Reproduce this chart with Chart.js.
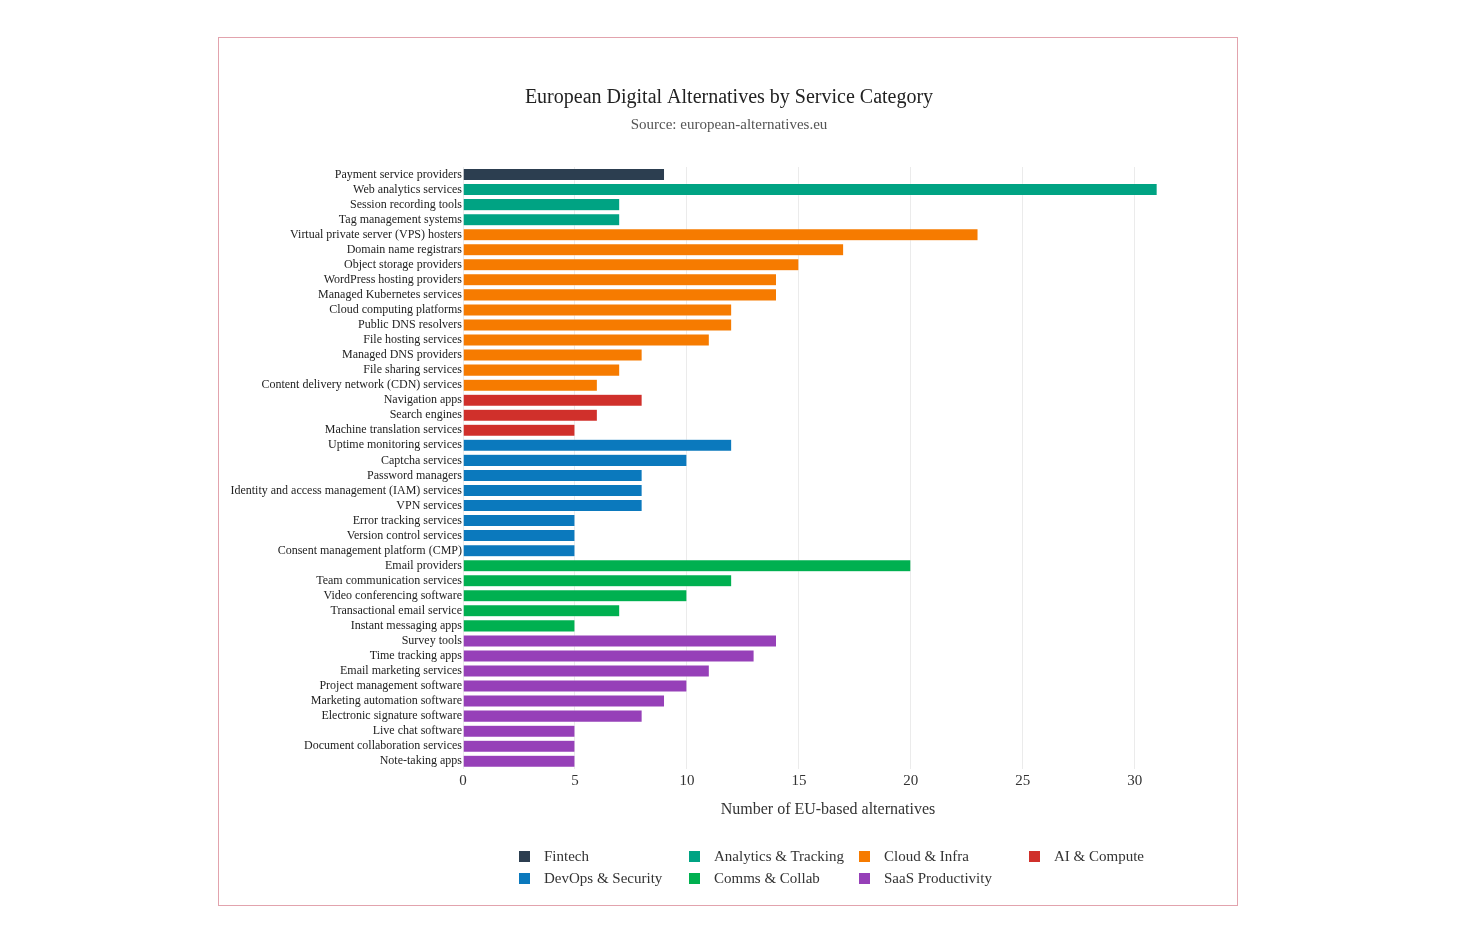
<!DOCTYPE html>
<html>
<head>
<meta charset="utf-8">
<script src="https://cdn.jsdelivr.net/npm/chart.js@4"></script>
<style>
    body { margin: 0; background: #fff; font-family: "Liberation Serif", "DejaVu Serif", serif; }
    #wrap { position: relative; width: 1464px; height: 948px; }
    #frame { position: absolute; left: 218px; top: 37px; width: 1020px; height: 869px; border: 1px solid #e2a3ad; box-sizing: border-box; }
    #chart { position: absolute; left: 0; top: 0; }
    #legend { position: absolute; left: 519px; top: 847px; display: grid; grid-template-columns: 170px 170px 170px 170px; row-gap: 4px; }
    .item { display: flex; align-items: center; font-size: 15px; color: #333; height: 18px; }
    .swatch { width: 11px; height: 11px; margin-right: 14px; }
</style>
</head>
<body>
<div id="wrap">
    <div id="frame"></div>
    <canvas id="chart" width="1464" height="948"></canvas>
    <div id="legend"></div>
</div>
<script>
// Categories, top to bottom
const categories = [
    'Payment service providers', 'Web analytics services', 'Session recording tools', 'Tag management systems',
    'Virtual private server (VPS) hosters', 'Domain name registrars', 'Object storage providers',
    'WordPress hosting providers', 'Managed Kubernetes services', 'Cloud computing platforms',
    'Public DNS resolvers', 'File hosting services', 'Managed DNS providers', 'File sharing services',
    'Content delivery network (CDN) services', 'Navigation apps', 'Search engines',
    'Machine translation services', 'Uptime monitoring services', 'Captcha services', 'Password managers',
    'Identity and access management (IAM) services', 'VPN services', 'Error tracking services',
    'Version control services', 'Consent management platform (CMP)', 'Email providers',
    'Team communication services', 'Video conferencing software', 'Transactional email service',
    'Instant messaging apps', 'Survey tools', 'Time tracking apps', 'Email marketing services',
    'Project management software', 'Marketing automation software', 'Electronic signature software',
    'Live chat software', 'Document collaboration services', 'Note-taking apps'
];

const counts = [
    9, 31, 7, 7,
    23, 17, 15, 14, 14, 12, 12, 11, 8, 7, 6,
    8, 6, 5,
    12, 10, 8, 8, 8, 5, 5, 5,
    20, 12, 10, 7, 5,
    14, 13, 11, 10, 9, 8, 5, 5, 5
];

const groupOf = [
    'Fintech', 'Analytics & Tracking', 'Analytics & Tracking', 'Analytics & Tracking',
    'Cloud & Infra', 'Cloud & Infra', 'Cloud & Infra', 'Cloud & Infra', 'Cloud & Infra', 'Cloud & Infra',
    'Cloud & Infra', 'Cloud & Infra', 'Cloud & Infra', 'Cloud & Infra', 'Cloud & Infra',
    'AI & Compute', 'AI & Compute', 'AI & Compute',
    'DevOps & Security', 'DevOps & Security', 'DevOps & Security', 'DevOps & Security',
    'DevOps & Security', 'DevOps & Security', 'DevOps & Security', 'DevOps & Security',
    'Comms & Collab', 'Comms & Collab', 'Comms & Collab', 'Comms & Collab', 'Comms & Collab',
    'SaaS Productivity', 'SaaS Productivity', 'SaaS Productivity', 'SaaS Productivity', 'SaaS Productivity',
    'SaaS Productivity', 'SaaS Productivity', 'SaaS Productivity', 'SaaS Productivity'
];

// Legend order (row by row)
const groups = ['Fintech', 'Analytics & Tracking', 'Cloud & Infra', 'AI & Compute',
    'DevOps & Security', 'Comms & Collab', 'SaaS Productivity'];
const groupColors = ['#2c3e50', '#00a383', '#f67b00', '#d0302b', '#0b79bd', '#00b050', '#9640b8'];

const xTicks = [0, 5, 10, 15, 20, 25, 30];

const serif = '"Liberation Serif", "DejaVu Serif", serif';

// one dataset per group, null where the category belongs elsewhere
const datasets = groups.map((g, i) => ({
    label: g,
    data: counts.map((v, j) => groupOf[j] === g ? v : null),
    backgroundColor: groupColors[i],
    borderColor: 'rgba(255,255,255,0.6)',
    borderWidth: 0.5,
    grouped: false,
    barPercentage: 0.8,
    categoryPercentage: 1
}));

new Chart(document.getElementById('chart'), {
    type: 'bar',
    data: { labels: categories, datasets: datasets },
    options: {
        indexAxis: 'y',
        responsive: false,
        animation: false,
        layout: { padding: { left: 0, right: 6, top: 0, bottom: 129 } },
        plugins: {
            legend: { display: false },
            tooltip: { enabled: false },
            title: {
                display: true,
                text: 'European Digital Alternatives by Service Category',
                color: '#222',
                font: { family: serif, size: 20, weight: 'normal' },
                padding: { top: 86, bottom: 6 }
            },
            subtitle: {
                display: true,
                text: 'Source: european-alternatives.eu',
                color: '#555',
                font: { family: serif, size: 15 },
                padding: { top: 0, bottom: 33 }
            }
        },
        scales: {
            x: {
                min: 0,
                max: 32.6,
                afterBuildTicks: axis => { axis.ticks = xTicks.map(v => ({ value: v })); },
                grid: { color: '#ebebeb', drawTicks: false },
                border: { display: false },
                ticks: { color: '#333', padding: 3, font: { family: serif, size: 15 } },
                title: {
                    display: true,
                    text: 'Number of EU-based alternatives',
                    color: '#333',
                    font: { family: serif, size: 16 },
                    padding: { top: 7, bottom: 0 }
                }
            },
            y: {
                afterFit: scale => { scale.width = 463; },
                grid: { display: false, drawTicks: false },
                border: { display: false },
                ticks: { color: '#222', padding: 1, autoSkip: false, font: { family: serif, size: 12 } }
            },
            // empty right margin so the title stays centred on the frame
            spacer: {
                type: 'linear',
                position: 'right',
                afterFit: scale => { scale.width = 265; },
                grid: { display: false, drawTicks: false },
                border: { display: false },
                ticks: { display: false }
            }
        }
    }
});

// legend as a 4-column grid under the chart
const legendEl = document.getElementById('legend');
groups.forEach((g, i) => {
    const item = document.createElement('div');
    item.className = 'item';
    item.innerHTML = `<span class="swatch" style="background:${groupColors[i]}"></span>${g}`;
    legendEl.appendChild(item);
});
</script>
</body>
</html>
